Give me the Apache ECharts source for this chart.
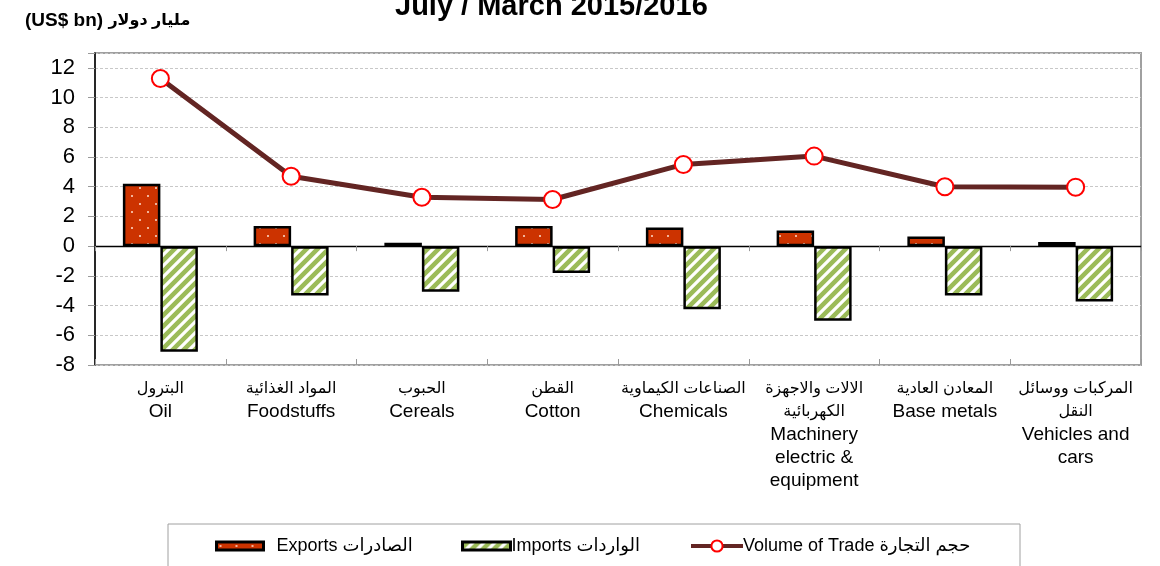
<!DOCTYPE html>
<html><head><meta charset="utf-8">
<script src="https://cdn.jsdelivr.net/npm/echarts@6/dist/echarts.min.js"></script>
<style>html,body{margin:0;padding:0;background:#fff}#c{width:1160px;height:566px}</style>
</head><body><div id="c"></div>
<script>
const categoriesEn = ['Oil','Foodstuffs','Cereals','Cotton','Chemicals','Machinery\nelectric &\nequipment','Base metals','Vehicles and\ncars'];
const categoriesAr = ['البترول','المواد الغذائية','الحبوب','القطن','الصناعات الكيماوية','الالات والاجهزة\nالكهربائية','المعادن العادية','المركبات ووسائل\nالنقل'];
const exportsVals = [4.2, 1.36, 0.22, 1.35, 1.26, 1.05, 0.65, 0.28];
const importsVals = [-7.1, -3.33, -3.07, -1.8, -4.25, -5.03, -3.33, -3.73];
const volumeVals = [11.28, 4.7, 3.29, 3.14, 5.5, 6.06, 4.0, 3.97];
const yTicks = [-8, -6, -4, -2, 0, 2, 4, 6, 8, 10, 12];
const seriesNames = ['Exports الصادرات', 'Imports الواردات', 'Volume of Trade حجم التجارة'];
const titleText = 'July / March 2015/2016';
const unitEn = '(US$ bn) ';
const unitAr = 'مليار دولار';

const FONT = "'Liberation Sans', Arial, 'DejaVu Sans', sans-serif";

function dotPattern() {
  const c = document.createElement('canvas');
  c.width = 16; c.height = 16;
  const g = c.getContext('2d');
  g.fillStyle = '#CC3300'; g.fillRect(0, 0, 16, 16);
  g.fillStyle = '#f2b49a';
  g.fillRect(3, 3, 2, 2);
  g.fillRect(11, 11, 2, 2);
  return c;
}
function stripePattern() {
  const s = 11;
  const c = document.createElement('canvas');
  c.width = s; c.height = s;
  const g = c.getContext('2d');
  g.fillStyle = '#9BBB59'; g.fillRect(0, 0, s, s);
  g.strokeStyle = '#ffffff'; g.lineWidth = 3.2;
  g.beginPath();
  g.moveTo(-2, s + 2); g.lineTo(s + 2, -2);
  g.moveTo(-2, 2); g.lineTo(2, -2);
  g.moveTo(s - 2, s + 2); g.lineTo(s + 2, s - 2);
  g.stroke();
  return c;
}

const chart = echarts.init(document.getElementById('c'), null, {renderer: 'canvas'});
const catIdx = categoriesEn.map((_, i) => i);

chart.setOption({
  animation: false,
  textStyle: {fontFamily: FONT},
  grid: {left: 95, right: 19, top: 53, bottom: 201, show: true, borderColor: '#a0a0a0', borderWidth: 2, backgroundColor: 'transparent'},
  graphic: [
    {type: 'text', left: 395, top: -8, style: {text: titleText, font: 'bold 29px ' + FONT, fill: '#000'}},
    {type: 'text', x: 25, y: 21, style: {
      text: '{en|' + unitEn + '}{ar|' + unitAr + '}', verticalAlign: 'middle',
      rich: {
        en: {fontSize: 19, fontWeight: 'bold', fontFamily: FONT, fill: '#000'},
        ar: {fontSize: 16, fontWeight: 'bold', fontFamily: FONT, fill: '#000'}
      }}},
    {type: 'rect', shape: {x: 168, y: 524, width: 852, height: 60}, style: {fill: 'none', stroke: '#a0a0a0', lineWidth: 1}, z: -1}
  ],
  legend: [
    {data: [seriesNames[0]], left: 215, top: 537, padding: 0, icon: 'rect', itemWidth: 47, itemHeight: 8,
     itemStyle: {borderWidth: 3},
     textStyle: {fontSize: 18, fontFamily: FONT, color: '#000', padding: [0, 0, 0, 8]}},
    {data: [seriesNames[1]], left: 461, top: 537, padding: 0, icon: 'rect', itemWidth: 48, itemHeight: 8,
     itemStyle: {borderWidth: 3},
     textStyle: {fontSize: 18, fontFamily: FONT, color: '#000', padding: [0, 0, 0, -4]}},
    {data: [seriesNames[2]], left: 689, top: 537, padding: 0, itemWidth: 52, itemHeight: 14,
     lineStyle: {width: 4, color: '#632523'},
     textStyle: {fontSize: 18, fontFamily: FONT, color: '#000', padding: [0, 0, 0, -5]}}
  ],
  xAxis: [
    {type: 'category', data: catIdx, position: 'bottom',
     axisLine: {onZero: true, lineStyle: {color: '#000', width: 1.3}},
     axisTick: {show: true, length: 5, lineStyle: {color: '#999'}},
     axisLabel: {show: false}, splitLine: {show: false}, z: 5},
    {type: 'category', data: catIdx, position: 'bottom',
     axisLine: {show: false, onZero: true},
     axisTick: {show: true, inside: true, length: 6, lineStyle: {color: '#999'}},
     axisLabel: {show: false}, splitLine: {show: false}},
    {type: 'category', data: catIdx, position: 'bottom',
     axisLine: {show: false, onZero: false}, axisTick: {show: false},
     axisLabel: {show: true, interval: 0, margin: 12,
       formatter: (v, i) => '{ar|' + categoriesAr[i] + '}\n{en|' + categoriesEn[i] + '}',
       rich: {
         ar: {fontSize: 16, lineHeight: 23, fontFamily: FONT, color: '#000', align: 'center'},
         en: {fontSize: 19, lineHeight: 23, fontFamily: FONT, color: '#000', align: 'center'}
       }}}
  ],
  yAxis: {type: 'value', min: -8, max: 13, interval: 2,
    axisLine: {show: true, onZero: false, lineStyle: {color: '#000', width: 1.5}},
    axisTick: {show: true, length: 7, lineStyle: {color: '#999'}},
    axisLabel: {fontSize: 22, color: '#000', margin: 20, fontFamily: FONT,
      formatter: v => (yTicks.indexOf(v) >= 0 ? String(v) : '')},
    splitLine: {show: true, lineStyle: {color: '#c8c8c8', type: [3, 2], width: 1}}
  },
  series: [
    {name: seriesNames[0], type: 'bar', data: exportsVals, barWidth: 37.5, barGap: '0%',
     itemStyle: {color: {image: dotPattern(), repeat: 'repeat'}, borderColor: '#000', borderWidth: 2.5}},
    {name: seriesNames[1], type: 'bar', data: importsVals, barWidth: 37.5, barGap: '0%',
     itemStyle: {color: {image: stripePattern(), repeat: 'repeat'}, borderColor: '#000', borderWidth: 2.5}},
    {name: seriesNames[2], type: 'line', data: volumeVals, z: 10,
     symbol: 'circle', symbolSize: 17,
     lineStyle: {color: '#632523', width: 5},
     itemStyle: {color: '#ffffff', borderColor: '#ff0000', borderWidth: 2}}
  ]
});
</script>
</body></html>
